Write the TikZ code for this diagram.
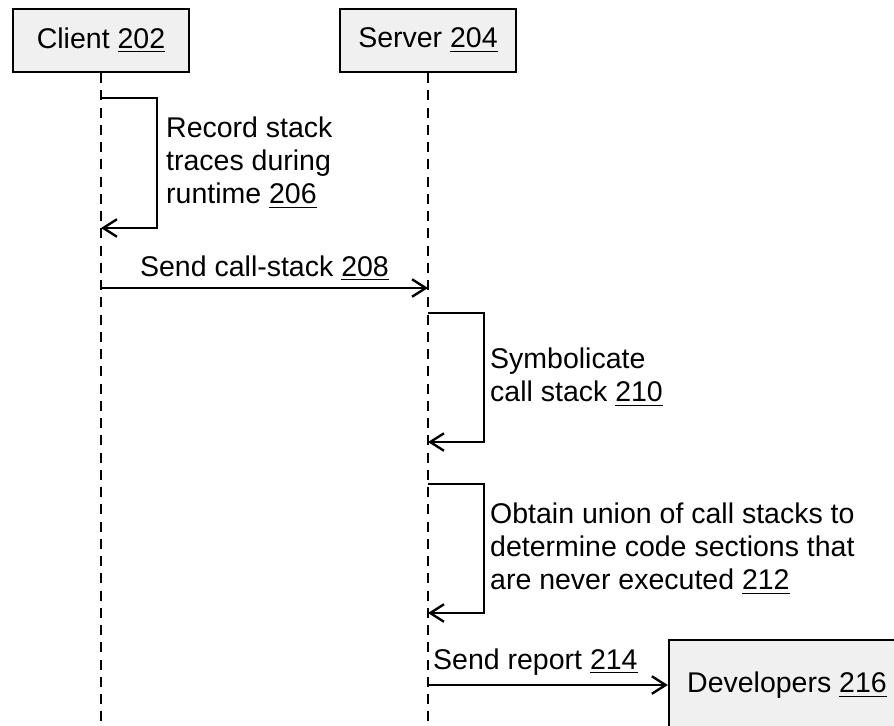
\documentclass[tikz,border=0pt]{standalone}
\usepackage{fontspec}
\setmainfont{Liberation Sans}
\usetikzlibrary{arrows.meta, positioning}
\newcommand{\refnum}[1]{\underline{#1}}

\begin{document}
\begin{tikzpicture}[x=40pt, y=40pt, line width=0.95pt,
  >={Straight Barb[length=5.5pt,width=7pt]},
  actor/.style={draw, fill=gray!12, inner sep=0pt, font=\fontsize{11.4}{13.3}\selectfont},
  lifeline/.style={dash pattern=on 4pt off 2.9pt},
  msg/.style={font=\fontsize{11.4}{13.3}\selectfont, inner sep=0pt, align=left}]
  \useasboundingbox (0,0) rectangle (8.94,-7.25);
  % participants
  \node[actor, minimum width=70.4pt, minimum height=25.2pt] (client) at (1.01,-0.405) {Client \refnum{202}};
  \node[actor, minimum width=70.4pt, minimum height=25.2pt] (server) at (4.28,-0.405) {Server \refnum{204}};
  \node[actor, minimum width=94.4pt, minimum height=36pt] (dev) at (7.87,-6.85) {Developers \refnum{216}};
  % lifelines
  \coordinate (clientend) at (1.01,-7.25);
  \coordinate (serverend) at (4.28,-7.25);
  \draw[lifeline] (client) -- (clientend);
  \draw[lifeline] (server) -- (serverend);
  % 206: record traces on the client
  \coordinate (c206a) at (1.01,-0.98);
  \coordinate (c206b) at (1.01,-2.28);
  \draw[->] (c206a) -- ++(0.56,0) |- (c206b)
    node[msg, pos=0.25, anchor=west, xshift=3.2pt] {Record stack\\traces during\\runtime \refnum{206}};
  % 208: client to server
  \coordinate (c208a) at (1.01,-2.88);
  \coordinate (c208b) at (4.28,-2.88);
  \draw[->] (c208a) -- (c208b)
    node[msg, midway, anchor=base, yshift=4.8pt] {Send call-stack \refnum{208}};
  % 210 and 212: work on the server
  \coordinate (c210a) at (4.28,-3.13);
  \coordinate (c210b) at (4.28,-4.42);
  \draw[->] (c210a) -- ++(0.56,0) |- (c210b)
    node[msg, pos=0.25, anchor=west, xshift=2pt] {Symbolicate\\call stack \refnum{210}};
  \coordinate (c212a) at (4.28,-4.84);
  \coordinate (c212b) at (4.28,-6.13);
  \draw[->] (c212a) -- ++(0.56,0) |- (c212b)
    node[msg, pos=0.25, anchor=west, xshift=2pt] {Obtain union of call stacks to\\determine code sections that\\are never executed \refnum{212}};
  % 214: report to developers
  \coordinate (c214) at (4.28,-6.85);
  \draw[->] (c214) -- (dev)
    node[msg, pos=0, anchor=base west, xshift=1.6pt, yshift=6.4pt] {Send report \refnum{214}};
\end{tikzpicture}
\end{document}
